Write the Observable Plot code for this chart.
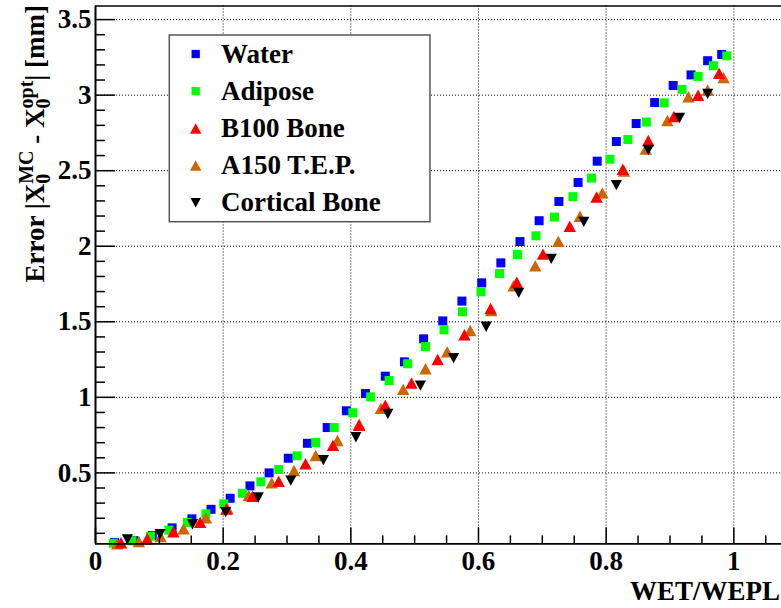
<!DOCTYPE html>
<html>
<head>
<meta charset="utf-8">
<script src="https://cdn.jsdelivr.net/npm/d3@7"></script>
<script src="https://cdn.jsdelivr.net/npm/@observablehq/plot@0.6"></script>
<style>
  body { margin: 0; background: #fff; }
  svg { display: block; }
</style>
</head>
<body>
<div id="chart"></div>
<script>
// Error of the reconstructed X0 versus WET/WEPL for five materials
const waterX = [0.030, 0.060, 0.089, 0.120, 0.151, 0.181, 0.211, 0.242, 0.272, 0.302, 0.332, 0.363, 0.393, 0.423, 0.454, 0.484, 0.514, 0.544, 0.574, 0.605, 0.635, 0.665, 0.695, 0.726, 0.756, 0.786, 0.816, 0.847, 0.876, 0.905, 0.933, 0.959, 0.981];
const waterY = [0.039, 0.052, 0.085, 0.136, 0.196, 0.259, 0.332, 0.414, 0.500, 0.597, 0.696, 0.800, 0.911, 1.025, 1.140, 1.235, 1.387, 1.506, 1.637, 1.758, 1.890, 2.031, 2.169, 2.296, 2.422, 2.563, 2.693, 2.812, 2.951, 3.064, 3.134, 3.228, 3.269];

const adiposeX = [0.028, 0.057, 0.086, 0.115, 0.144, 0.173, 0.201, 0.230, 0.259, 0.287, 0.316, 0.345, 0.374, 0.403, 0.431, 0.460, 0.489, 0.517, 0.546, 0.575, 0.604, 0.633, 0.661, 0.690, 0.719, 0.748, 0.777, 0.806, 0.834, 0.863, 0.891, 0.919, 0.944, 0.968, 0.989];
const adiposeY = [0.034, 0.051, 0.080, 0.121, 0.171, 0.229, 0.295, 0.365, 0.441, 0.522, 0.613, 0.701, 0.800, 0.898, 1.003, 1.111, 1.222, 1.336, 1.447, 1.566, 1.698, 1.819, 1.945, 2.069, 2.193, 2.328, 2.451, 2.576, 2.706, 2.822, 2.949, 3.038, 3.124, 3.195, 3.260];

const b100X = [0.040, 0.081, 0.122, 0.164, 0.205, 0.246, 0.287, 0.329, 0.372, 0.413, 0.454, 0.495, 0.536, 0.578, 0.619, 0.660, 0.701, 0.743, 0.785, 0.826, 0.866, 0.906, 0.944, 0.977];
const b100Y = [0.038, 0.064, 0.110, 0.173, 0.261, 0.345, 0.445, 0.560, 0.682, 0.815, 0.948, 1.095, 1.250, 1.414, 1.588, 1.762, 1.948, 2.132, 2.326, 2.510, 2.700, 2.858, 2.999, 3.145];

const a150X = [0.034, 0.068, 0.102, 0.138, 0.173, 0.207, 0.240, 0.276, 0.311, 0.345, 0.379, 0.413, 0.447, 0.482, 0.517, 0.551, 0.587, 0.620, 0.655, 0.689, 0.725, 0.759, 0.794, 0.828, 0.862, 0.896, 0.929, 0.959, 0.984];
const a150Y = [0.030, 0.046, 0.079, 0.130, 0.203, 0.262, 0.350, 0.434, 0.516, 0.615, 0.714, 0.822, 0.927, 1.053, 1.189, 1.301, 1.442, 1.574, 1.738, 1.870, 2.032, 2.199, 2.353, 2.498, 2.643, 2.832, 2.989, 3.034, 3.116];

const corticalX = [0.050, 0.101, 0.152, 0.204, 0.255, 0.306, 0.357, 0.408, 0.458, 0.509, 0.561, 0.612, 0.663, 0.714, 0.765, 0.816, 0.866, 0.915, 0.959];
const corticalY = [0.060, 0.095, 0.160, 0.240, 0.337, 0.449, 0.585, 0.736, 0.891, 1.078, 1.260, 1.467, 1.692, 1.917, 2.161, 2.404, 2.638, 2.850, 3.009];

// axis ticks
const xMajor = [0, 0.2, 0.4, 0.6, 0.8, 1];
const xMinor = [0.05, 0.1, 0.15, 0.25, 0.3, 0.35, 0.45, 0.5, 0.55, 0.65, 0.7, 0.75, 0.85, 0.9, 0.95, 1.05];
const yMajor = [0.5, 1, 1.5, 2, 2.5, 3, 3.5];
const yMinor = [0.1, 0.2, 0.3, 0.4, 0.6, 0.7, 0.8, 0.9, 1.1, 1.2, 1.3, 1.4, 1.6, 1.7, 1.8, 1.9, 2.1, 2.2, 2.3, 2.4, 2.6, 2.7, 2.8, 2.9, 3.1, 3.2, 3.3, 3.4];
const xLabels = ["0", "0.2", "0.4", "0.6", "0.8", "1"];
const yLabels = ["0.5", "1", "1.5", "2", "2.5", "3", "3.5"];

// marker shapes: r is the half-width in pixels
const radius = size => Math.sqrt(size / Math.PI);
const squareMarker = { draw(c, size) { const r = radius(size); c.moveTo(-r, -r); c.lineTo(r, -r); c.lineTo(r, r); c.lineTo(-r, r); c.closePath(); } };
const triangleUp = { draw(c, size) { const r = radius(size), h = 0.92 * r; c.moveTo(0, -h); c.lineTo(r, h); c.lineTo(-r, h); c.closePath(); } };
const triangleDown = { draw(c, size) { const r = radius(size), h = 0.92 * r; c.moveTo(0, h); c.lineTo(r, -h); c.lineTo(-r, -h); c.closePath(); } };

const series = [
  { name: "Water", xs: waterX, ys: waterY, color: "#0000ff", symbol: squareMarker, r: 4.5 },
  { name: "Adipose", xs: adiposeX, ys: adiposeY, color: "#00ff00", symbol: squareMarker, r: 4.5 },
  { name: "B100 Bone", xs: b100X, ys: b100Y, color: "#ff0000", symbol: triangleUp, r: 6.2 },
  { name: "A150 T.E.P.", xs: a150X, ys: a150Y, color: "#cc6600", symbol: triangleUp, r: 6.2 },
  { name: "Cortical Bone", xs: corticalX, ys: corticalY, color: "#000000", symbol: triangleDown, r: 5.6 }
];
const drawOrder = [0, 1, 3, 2, 4];

const fontFamily = "'Liberation Serif', 'Times New Roman', serif";
const W = 781, H = 608;
const fmt = (labels, ticks) => d => labels[ticks.indexOf(d)];

const chart = Plot.plot({
  width: W,
  height: H,
  marginLeft: 95,
  marginRight: 0,
  marginTop: 5.5,
  marginBottom: 64.6,
  x: { domain: [0, 1.0747] },
  y: { domain: [0.03, 3.59] },
  style: { fontFamily, fontWeight: "bold", fontSize: "27px", background: "#fff", color: "#000" },
  marks: [
    Plot.gridX(xMajor.slice(1), { stroke: "#000", strokeOpacity: 1, strokeWidth: 1, strokeDasharray: "1,2" }),
    Plot.gridY(yMajor, { stroke: "#000", strokeOpacity: 1, strokeWidth: 1, strokeDasharray: "1,2" }),
    ...drawOrder.map(i => {
      const s = series[i];
      return Plot.dot(s.xs.map((x, j) => ({ x, y: s.ys[j] })), {
        x: "x", y: "y", symbol: s.symbol, r: s.r, fill: s.color, stroke: "none"
      });
    }),
    // frame
    Plot.ruleX([0], { stroke: "#000", strokeWidth: 2 }),
    Plot.ruleY([0.03], { stroke: "#000", strokeWidth: 1.7 }),
    Plot.ruleY([3.59], { stroke: "#000", strokeWidth: 1.3 }),
    // inward tick marks
    Plot.axisX(xMajor, { tickSize: -16, fill: "none", strokeWidth: 1.5, label: null }),
    Plot.axisX(xMinor, { tickSize: -8, fill: "none", strokeWidth: 1.5, label: null }),
    Plot.axisY(yMajor, { tickSize: -20, fill: "none", strokeWidth: 1.5, label: null }),
    Plot.axisY(yMinor, { tickSize: -10, fill: "none", strokeWidth: 1.5, label: null }),
    // tick labels
    Plot.axisX(xMajor, { tickSize: 0, stroke: "none", tickPadding: 7, tickFormat: fmt(xLabels, xMajor), label: null }),
    Plot.axisY(yMajor, { tickSize: 0, stroke: "none", tickPadding: 4, tickFormat: fmt(yLabels, yMajor), label: null })
  ]
});

document.getElementById("chart").appendChild(chart);

const svg = d3.select(chart);
const textStyle = sel => sel
  .attr("font-family", fontFamily).attr("font-weight", "bold").attr("font-size", 27)
  .attr("fill", "#000");

// x-axis title
svg.append("text")
  .attr("x", 780).attr("y", 600)
  .attr("text-anchor", "end")
  .call(textStyle)
  .text("WET/WEPL");

// y-axis title with stacked sub/superscripts
const subSize = 20;
const yTitle = svg.append("text")
  .attr("transform", "translate(44,5) rotate(-90)")
  .attr("text-anchor", "end")
  .call(textStyle);
const zeroW = 0.5 * subSize;
yTitle.append("tspan").text("Error |X");
yTitle.append("tspan").attr("font-size", subSize).attr("dy", 6).text("0");
yTitle.append("tspan").attr("font-size", subSize).attr("dx", -zeroW).attr("dy", -17).text("MC");
yTitle.append("tspan").attr("dy", 11).text(" - X");
yTitle.append("tspan").attr("font-size", subSize).attr("dy", 6).text("0");
yTitle.append("tspan").attr("font-size", subSize).attr("dx", -zeroW).attr("dy", -17).text("opt");
yTitle.append("tspan").attr("dy", 11).text("| [mm]");

// legend
const legend = svg.append("g");
legend.append("rect")
  .attr("x", 169.3).attr("y", 35).attr("width", 260.7).attr("height", 186.7)
  .attr("fill", "#fff").attr("stroke", "#555").attr("stroke-width", 1.5);
series.forEach((s, i) => {
  const cy = 54 + i * 37.2;
  legend.append("path")
    .attr("transform", `translate(195.7,${cy})`)
    .attr("d", d3.symbol(s.symbol, Math.PI * (s.r * 0.92) ** 2)())
    .attr("fill", s.color);
  legend.append("text")
    .attr("x", 221).attr("y", cy + 8.5)
    .attr("text-anchor", "start")
    .call(textStyle)
    .text(s.name);
});
</script>
</body>
</html>
